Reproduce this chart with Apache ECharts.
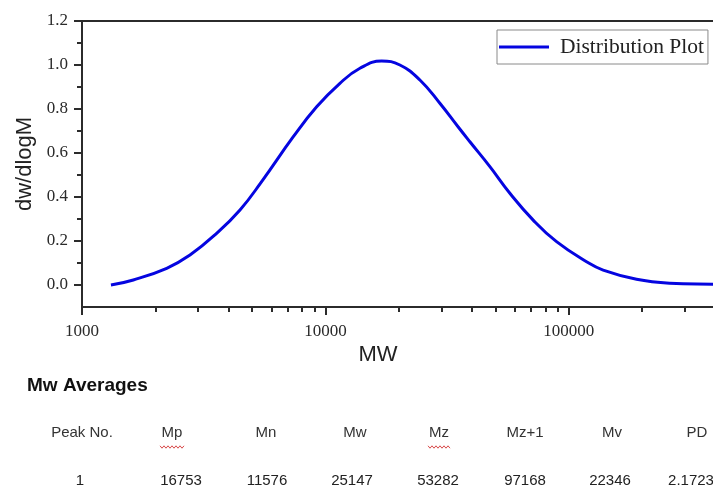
<!DOCTYPE html>
<html>
<head>
<meta charset="utf-8">
<script src="https://cdn.jsdelivr.net/npm/echarts@6/dist/echarts.min.js"></script>
<style>
  html, body { margin: 0; padding: 0; background: #fff; }
  #chart { width: 713px; height: 492px; }
</style>
</head>
<body>
<div id="chart"></div>
<script>
// Molecular weight distribution curve (MW vs dw/dlogM)
const mw = [1315, 1625, 2228, 2777, 3573, 4457, 5470, 7380, 9204, 11470, 13860,
  17020, 20230, 24440, 29520, 35120, 39220, 47380, 57240, 71360, 89010,
  118200, 138300, 189700, 259800, 390300, 500000];
const dw = [0.000, 0.023, 0.076, 0.136, 0.235, 0.341, 0.470, 0.674, 0.810, 0.917, 0.985,
  1.018, 1.000, 0.932, 0.826, 0.718, 0.651, 0.538, 0.417, 0.295, 0.197,
  0.106, 0.068, 0.026, 0.008, 0.003, 0.001];

// Axis ticks
const yMajorTicks = [0, 0.2, 0.4, 0.6, 0.8, 1.0, 1.2];
const yMinorTicks = [0.1, 0.3, 0.5, 0.7, 0.9, 1.1];
const xMinorTicks = [2000, 3000, 4000, 5000, 6000, 7000, 8000, 9000,
  20000, 30000, 40000, 50000, 60000, 70000, 80000, 90000,
  200000, 300000, 400000, 500000];

// Averages table
const tableHeaders = ['Peak No.', 'Mp', 'Mn', 'Mw', 'Mz', 'Mz+1', 'Mv', 'PD'];
const tableValues = ['1', '16753', '11576', '25147', '53282', '97168', '22346', '2.1723'];
const headerX = [82, 172, 266, 355, 439, 525, 612, 697];
const valueX = [80, 181, 267, 352, 438, 525, 610, 691];

const X_MIN = 1000, X_MAX = 500000;
const axisColor = '#2b2b2b';
const serif = '"Liberation Serif", "DejaVu Serif", serif';
const sans = '"Liberation Sans", Arial, sans-serif';

function squiggle(x0, x1, y) {
  const pts = [];
  let up = true;
  for (let x = x0; x <= x1; x += 2) { pts.push([x, up ? y - 1.2 : y + 1.2]); up = !up; }
  return {
    type: 'polyline', shape: { points: pts },
    style: { stroke: '#d84a4a', lineWidth: 1, fill: null }, silent: true
  };
}

const graphics = [
  { type: 'text', x: 378, y: 355, style: { text: 'MW', font: '22px ' + sans, fill: '#222', align: 'center', verticalAlign: 'middle' } },
  { type: 'text', x: 27, y: 386, style: { text: 'Mw Averages', font: 'bold 19px ' + sans, fill: '#111', verticalAlign: 'middle' } }
];
tableHeaders.forEach((t, i) => graphics.push({
  type: 'text', x: headerX[i], y: 433,
  style: { text: t, font: '15px ' + sans, fill: '#333', align: 'center', verticalAlign: 'middle' }
}));
tableValues.forEach((t, i) => graphics.push({
  type: 'text', x: valueX[i], y: 481,
  style: { text: t, font: '15px ' + sans, fill: '#222', align: 'center', verticalAlign: 'middle' }
}));
graphics.push(squiggle(160, 184, 447));
graphics.push(squiggle(428, 450, 447));

const chart = echarts.init(document.getElementById('chart'), null, { renderer: 'canvas' });
chart.setOption({
  animation: false,
  backgroundColor: '#fff',
  grid: {
    left: 82, top: 21, right: -26, bottom: 185,
    outerBoundsMode: 'none', containLabel: false,
    show: true, borderColor: axisColor, borderWidth: 2, backgroundColor: 'transparent'
  },
  legend: {
    left: 497, top: 30,
    padding: [6, 4, 6, 2],
    borderColor: '#8a8a8a', borderWidth: 1,
    icon: 'rect', itemWidth: 50, itemHeight: 3,
    textStyle: { fontFamily: serif, fontSize: 21.5, color: '#222', padding: [0, 0, 0, 6] },
    data: ['Distribution Plot']
  },
  xAxis: [
    {
      type: 'log', logBase: 10, min: X_MIN, max: X_MAX,
      position: 'bottom',
      axisLine: { show: true, onZero: false, lineStyle: { color: axisColor, width: 2 } },
      axisTick: { show: true, inside: false, length: 8, lineStyle: { color: axisColor, width: 2 } },
      axisLabel: {
        fontFamily: serif, fontSize: 17, color: '#2a2a2a', margin: 16,
        showMaxLabel: false,
        formatter: v => String(Math.round(v))
      },
      splitLine: { show: false }
    },
    {
      type: 'value', min: Math.log10(X_MIN), max: Math.log10(X_MAX),
      position: 'bottom',
      axisLine: { show: false, onZero: false },
      axisTick: { show: true, inside: false, length: 5, customValues: xMinorTicks.map(Math.log10), lineStyle: { color: axisColor, width: 2 } },
      axisLabel: { show: false },
      splitLine: { show: false }
    }
  ],
  yAxis: [
    {
      type: 'value', min: -0.1, max: 1.2,
      name: 'dw/dlogM', nameLocation: 'middle', nameGap: 46,
      nameTextStyle: { fontFamily: sans, fontSize: 22, color: '#222' },
      axisLine: { show: true, onZero: false, lineStyle: { color: axisColor, width: 2 } },
      axisTick: { show: true, inside: false, length: 8, customValues: yMajorTicks, lineStyle: { color: axisColor, width: 2 } },
      axisLabel: {
        customValues: yMajorTicks,
        fontFamily: serif, fontSize: 17, color: '#2a2a2a', margin: 14,
        formatter: v => v.toFixed(1)
      },
      splitLine: { show: false }
    },
    {
      type: 'value', min: -0.1, max: 1.2, position: 'left',
      axisLine: { show: false, onZero: false },
      axisTick: { show: true, inside: false, length: 5, customValues: yMinorTicks, lineStyle: { color: axisColor, width: 2 } },
      axisLabel: { show: false },
      splitLine: { show: false }
    }
  ],
  series: [{
    name: 'Distribution Plot',
    type: 'line',
    xAxisIndex: 0, yAxisIndex: 0,
    data: mw.map((m, i) => [m, dw[i]]),
    symbol: 'none', smooth: 0.45,
    lineStyle: { color: '#0505e0', width: 3 },
    itemStyle: { color: '#0505e0' },
    clip: true
  }],
  graphic: graphics
});
</script>
</body>
</html>
